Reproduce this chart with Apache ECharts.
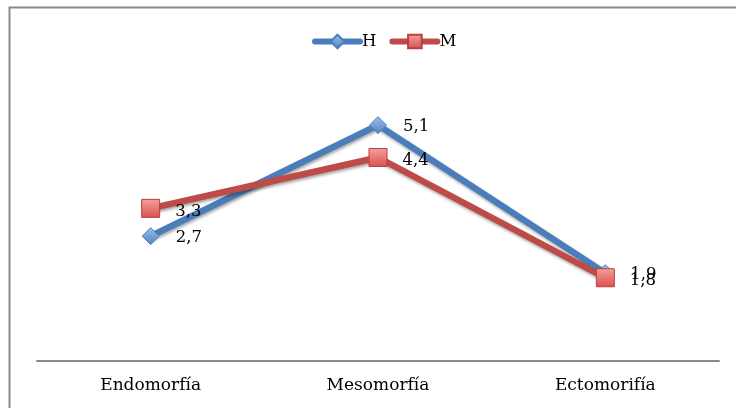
<!DOCTYPE html>
<html>
<head>
<meta charset="utf-8">
<script src="https://cdn.jsdelivr.net/npm/echarts@6/dist/echarts.min.js"></script>
<style>
  html, body { margin: 0; padding: 0; background: #fff; }
  #chart { width: 736px; height: 408px; }
</style>
</head>
<body>
<div id="chart"></div>
<script>
// Somatotype components
const categories = ['Endomorfía', 'Mesomorfía', 'Ectomorifía'];
const seriesNames = ['H', 'M'];
const valuesH = [2.7, 5.1, 1.9];
const valuesM = [3.3, 4.4, 1.8];

const FONT = 'DejaVu Serif';
const fmt = p => String(p.value).replace('.', ',');

const chart = echarts.init(document.getElementById('chart'));

const lineShadow = {
  shadowColor: 'rgba(0,0,0,0.35)',
  shadowBlur: 3,
  shadowOffsetX: 1,
  shadowOffsetY: 2
};

chart.setOption({
  animation: false,
  backgroundColor: '#ffffff',
  textStyle: { fontFamily: FONT },
  graphic: [{
    type: 'rect',
    shape: { x: 9.5, y: 7.5, width: 740, height: 420 },
    style: { fill: 'none', stroke: '#8a8a8a', lineWidth: 2 },
    silent: true
  }],
  legend: {
    top: 33,
    left: 312,
    padding: 0,
    itemWidth: 45,
    itemHeight: 17,
    itemGap: 13,
    lineStyle: { width: 6, cap: 'round' },
    textStyle: { fontFamily: FONT, fontSize: 16.5, color: '#000', padding: [0, 0, 0, -3] },
    data: seriesNames
  },
  grid: { left: 37, right: 17, top: 83.5, bottom: 47, containLabel: false },
  xAxis: {
    type: 'category',
    data: categories,
    boundaryGap: true,
    axisLine: { lineStyle: { color: '#8a8a8a', width: 2 } },
    axisTick: { show: false },
    axisLabel: { margin: 16, fontFamily: FONT, fontSize: 17, color: '#000' },
    splitLine: { show: false }
  },
  yAxis: {
    type: 'value',
    min: 0,
    max: 6,
    interval: 1,
    show: false,
    splitLine: { show: false }
  },
  series: [
    {
      name: seriesNames[0],
      type: 'line',
      data: valuesH,
      symbol: 'diamond',
      symbolSize: 17,
      lineStyle: Object.assign({ color: '#4A7EBB', width: 6.5 }, lineShadow),
      itemStyle: {
        color: new echarts.graphic.LinearGradient(0, 0, 0, 1, [
          { offset: 0, color: '#9EC0F0' },
          { offset: 1, color: '#4F81BD' }
        ]),
        borderColor: '#4A7EBB',
        borderWidth: 1
      },
      label: {
        show: true,
        position: 'right',
        distance: 16,
        offset: [0, 2],
        formatter: fmt,
        fontFamily: FONT,
        fontSize: 16.5,
        color: '#000'
      }
    },
    {
      name: seriesNames[1],
      type: 'line',
      data: valuesM,
      symbol: 'rect',
      symbolSize: 18,
      lineStyle: Object.assign({ color: '#BE4B48', width: 6.5 }, lineShadow),
      itemStyle: {
        color: new echarts.graphic.LinearGradient(0, 0, 0, 1, [
          { offset: 0, color: '#F5A09E' },
          { offset: 1, color: '#D9504D' }
        ]),
        borderColor: '#B7423F',
        borderWidth: 1
      },
      label: {
        show: true,
        position: 'right',
        distance: 15,
        offset: [0, 3],
        formatter: fmt,
        fontFamily: FONT,
        fontSize: 16.5,
        color: '#000'
      }
    }
  ]
});
</script>
</body>
</html>
